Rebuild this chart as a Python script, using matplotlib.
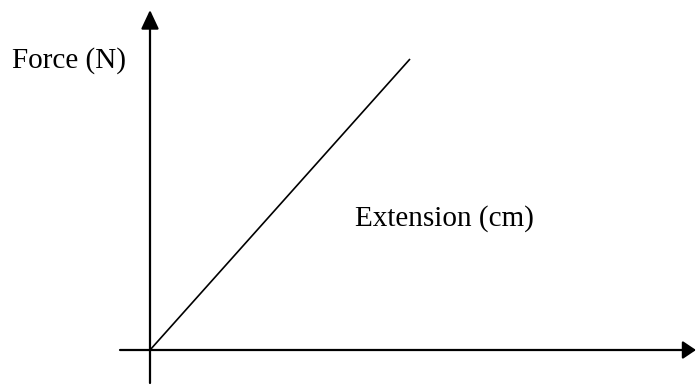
"""
Force against extension sketch: a straight line through the origin
with hand-drawn style arrowed axes.
"""

import matplotlib

matplotlib.use("Agg")
import matplotlib.pyplot as plt

# Data (pixel-scaled units, origin where the axes cross)
extension = [0, 260]
force = [0, 291]

x_axis_span = [-30, 546]
y_axis_span = [-33, 340]

x_label = "Extension (cm)"
y_label = "Force (N)"

plt.rcParams["font.family"] = ["Liberation Serif", "DejaVu Serif"]

fig = plt.figure(figsize=(6.96, 3.85), dpi=100)
ax = fig.add_axes([0, 0, 1, 1])
ax.set_xlim(-150, 546)
ax.set_ylim(-35, 350)
ax.axis("off")

# Axes with arrow heads
ax.annotate(
    "",
    xy=(x_axis_span[1], 0),
    xytext=(x_axis_span[0], 0),
    arrowprops=dict(arrowstyle="-|>,head_length=0.8,head_width=0.54", color="black", lw=1.6,
                    shrinkA=0, shrinkB=0),
)
ax.annotate(
    "",
    xy=(0, y_axis_span[1]),
    xytext=(0, y_axis_span[0]),
    arrowprops=dict(arrowstyle="-|>,head_length=1.15,head_width=0.54", color="black", lw=1.6,
                    shrinkA=0, shrinkB=0),
)

# Proportional line
ax.plot(extension, force, color="black", lw=1.2, solid_capstyle="butt")

ax.text(-138, 282, y_label, fontsize=21, va="baseline", ha="left")
ax.text(205, 124, x_label, fontsize=21, va="baseline", ha="left")

fig.savefig("out.png", dpi=100)
